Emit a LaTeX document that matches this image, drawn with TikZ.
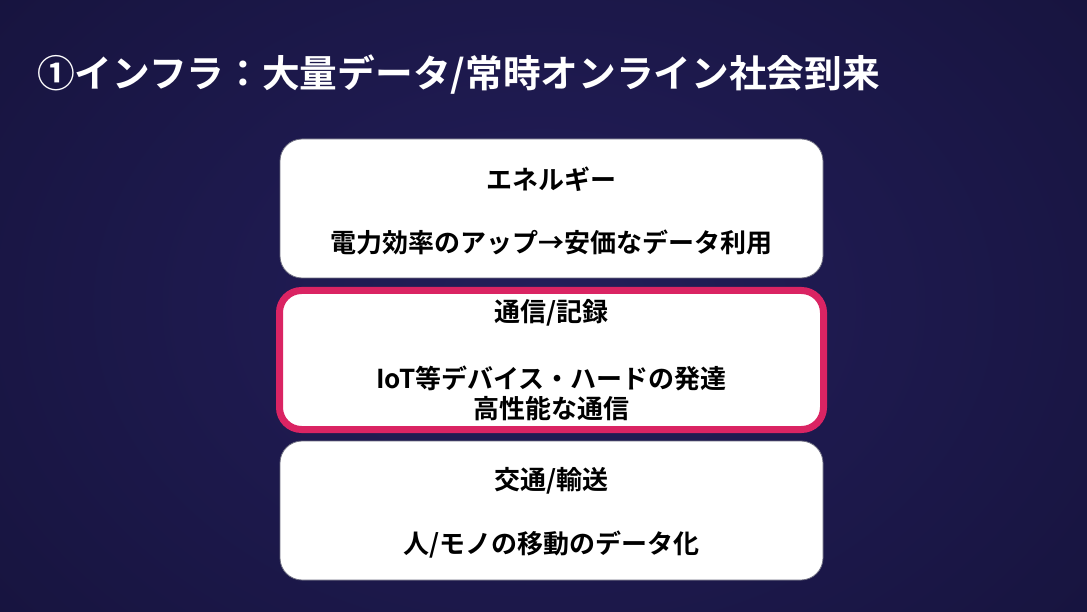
\documentclass[tikz,border=0pt]{standalone}
\usepackage{fontspec}
\newfontfamily\jp{Noto Sans CJK JP}[BoldFont={Noto Sans CJK JP Bold}]
\definecolor{bgin}{HTML}{231E5A}
\definecolor{bgout}{HTML}{17143F}
\definecolor{pinkb}{HTML}{DA2463}
\definecolor{boxline}{HTML}{6E6E80}
\begin{document}
\begin{tikzpicture}[x=1pt,y=-1pt,
  card/.style={draw=boxline,line width=0.8pt,fill=white,rounded corners=22pt},
  hot/.style={draw=pinkb,line width=7pt,fill=white,rounded corners=22pt},
  lbl/.style={font=\jp\bfseries\fontsize{26}{30}\selectfont,text=black,align=center,inner sep=0pt},
  ttl/.style={font=\jp\bfseries\fontsize{37.7}{42}\selectfont,text=white,anchor=west,inner sep=0pt}]
\useasboundingbox (0,0) rectangle (1087,612);
\shade[inner color=bgin,outer color=bgout] (-150,-200) rectangle (1237,812);
\node[ttl] (title) at (37,75) {①インフラ：大量データ/常時オンライン社会到来};
\draw[card] (280,139) rectangle (823,278);
\draw[hot] (279.5,290.5) rectangle (823.5,429.5);
\draw[card] (280,441) rectangle (823,580);
\node[lbl] (e1) at (551.5,179) {エネルギー};
\node[lbl] (e2) at (551.5,242) {電力効率のアップ→安価なデータ利用};
\node[lbl] (c1) at (551.5,313) {通信/記録};
\node[lbl] (c2) at (551.5,393) {IoT等デバイス・ハードの発達\\高性能な通信};
\node[lbl] (t1) at (551.5,481) {交通/輸送};
\node[lbl] (t2) at (551.5,545) {人/モノの移動のデータ化};
\end{tikzpicture}
\end{document}
